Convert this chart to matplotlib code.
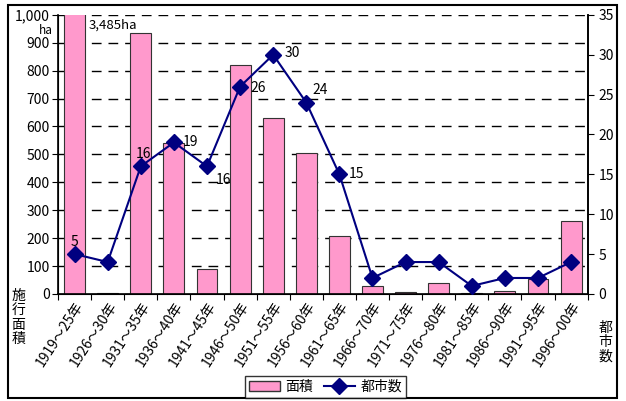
import numpy as np
import matplotlib.pyplot as plt
from matplotlib.patches import Rectangle
from matplotlib.lines import Line2D

plt.rcParams['font.family'] = ['Noto Sans CJK JP', 'DejaVu Sans']

# data
periods = ['1919～25年', '1926～30年', '1931～35年', '1936～40年', '1941～45年',
           '1946～50年', '1951～55年', '1956～60年', '1961～65年', '1966～70年',
           '1971～75年', '1976～80年', '1981～85年', '1986～90年', '1991～95年',
           '1996～00年']
area = [3485, 3, 935, 540, 90, 820, 630, 505, 208, 28, 7, 38, 2, 10, 53, 262]
cities = [5, 4, 16, 19, 16, 26, 30, 24, 15, 2, 4, 4, 1, 2, 2, 4]

# which points get a number and where (offset in points)
label_offsets = {0: (0, 9), 2: (2, 9), 3: (12, 0), 4: (12, -10),
                 5: (13, -1), 6: (14, 1), 7: (10, 9), 8: (12, 0)}

fig = plt.figure(figsize=(6.26, 4.01), dpi=100)
ax = fig.add_axes([0.0927, 0.267, 0.846, 0.696])
x = np.arange(len(periods))

ax.bar(x, area, width=0.63, color='#FF99CC', edgecolor='#333333', linewidth=0.8,
       zorder=2)
ax.set_xlim(-0.5, len(periods) - 0.5)
ax.set_ylim(0, 1000)
ax.set_yticks(np.arange(0, 1001, 100))
ax.set_yticklabels([f'{v:,}' for v in range(0, 1001, 100)], fontsize=10)
ax.set_axisbelow(True)
ax.yaxis.grid(True, color='black', linestyle=(0, (7, 5)), linewidth=1.0)
ax.set_xticks(np.arange(-0.5, len(periods), 1))
ax.set_xticklabels([])
ax.tick_params(axis='x', length=4, direction='out')
ax.tick_params(axis='y', length=4, direction='out', pad=2)
ax.set_xticks(x, minor=True)
ax.set_xticklabels(periods, minor=True, rotation=57, ha='right',
                   rotation_mode='anchor', fontsize=10)
ax.tick_params(axis='x', which='minor', length=0, pad=4)
ax.spines['top'].set_visible(False)
for s in ['left', 'bottom', 'right']:
    ax.spines[s].set_linewidth(1.2)

ax2 = ax.twinx()
ax2.plot(x, cities, color='#000080', marker='D', markersize=8, linewidth=1.5,
         zorder=3)
ax2.set_ylim(0, 35)
ax2.set_yticks(np.arange(0, 36, 5))
ax2.tick_params(axis='y', labelsize=10, length=4, direction='out', pad=4)
ax2.spines['top'].set_visible(False)
ax2.spines['right'].set_linewidth(1.2)
for i, (dx, dy) in label_offsets.items():
    ax2.annotate(str(cities[i]), (x[i], cities[i]), xytext=(dx, dy),
                 textcoords='offset points', ha='center', va='center',
                 fontsize=10)

fig.text(0.141, 0.937, '3,485ha', ha='left', va='center', fontsize=9.5)
fig.text(0.074, 0.924, 'ha', ha='center', va='center', fontsize=8.5)
fig.text(0.029, 0.28, '施\n行\n面\n積', ha='center', va='top', fontsize=10,
         linespacing=1.05)
fig.text(0.967, 0.2, '都\n市\n数', ha='center', va='top', fontsize=10,
         linespacing=1.05)

handles = [Rectangle((0, 0), 1, 1, facecolor='#FF99CC', edgecolor='#333333'),
           Line2D([], [], color='#000080', marker='D', markersize=8,
                  linewidth=1.5)]
leg = fig.legend(handles, ['面積', '都市数'], loc='center',
                 bbox_to_anchor=(0.52, 0.035), ncol=2, fontsize=10,
                 frameon=True, fancybox=False, edgecolor='black',
                 handlelength=2.2, columnspacing=0.8, handletextpad=0.4,
                 borderpad=0.3)
leg.get_frame().set_linewidth(1.0)

fig.patches.append(Rectangle((0.013, 0.008), 0.973, 0.98, transform=fig.transFigure,
                             fill=False, edgecolor='black', linewidth=1.5))

fig.savefig('out.png', dpi=100)
